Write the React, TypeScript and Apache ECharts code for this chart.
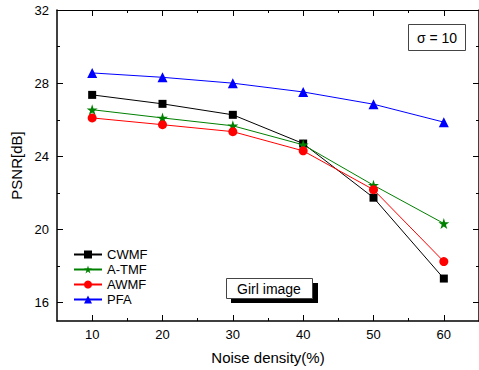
import React, { useEffect, useRef } from "react";
import * as echarts from "echarts";

const noiseDensity = [10, 20, 30, 40, 50, 60];
const cwmf = [27.36, 26.87, 26.27, 24.7, 21.74, 17.32];
const atmf = [26.55, 26.1, 25.67, 24.63, 22.42, 20.33];
const awmf = [26.1, 25.73, 25.35, 24.3, 22.18, 18.25];
const pfa = [28.56, 28.32, 28.0, 27.52, 26.85, 25.87];
const xMajor = [10, 20, 30, 40, 50, 60];
const xMinor = [15, 25, 35, 45, 55];
const yMajor = [16, 20, 24, 28, 32];
const yMinor = [18, 22, 26, 30];

const FONT = "Liberation Sans, Arial, sans-serif";

export default function App() {
  const ref = useRef<HTMLDivElement>(null);
  useEffect(() => {
    if (!ref.current) return;
    const chart = echarts.init(ref.current, undefined, { renderer: "svg" });
    const lineStyle = { color: "#000", width: 1.5 };
    const hiddenLine = { show: false };
    const xBase = { type: "value", min: 5, max: 65, splitLine: { show: false }, gridIndex: 0 };
    const yBase = { type: "value", min: 15, max: 32, splitLine: { show: false }, gridIndex: 0 };
    const mk = (name: string, vals: number[], color: string, symbol: string, size: number) => ({
      name,
      type: "line",
      data: noiseDensity.map((x, i) => [x, vals[i]]),
      symbol,
      symbolSize: size,
      lineStyle: { color, width: 1 },
      itemStyle: { color },
      xAxisIndex: 0,
      yAxisIndex: 0,
    });
    chart.setOption({
      animation: false,
      textStyle: { fontFamily: FONT },
      grid: { left: 57, right: -2, top: 10, bottom: 48, containLabel: false },
      legend: {
        left: 68,
        top: 243,
        orient: "vertical",
        itemWidth: 28,
        itemHeight: 10,
        itemGap: 2,
        textStyle: { fontFamily: FONT, fontSize: 13, lineHeight: 12, color: "#000" },
        data: ["CWMF", "A-TMF", "AWMF", "PFA"],
      },
      xAxis: [
        {
          ...xBase,
          position: "bottom",
          axisLine: { show: true, lineStyle },
          axisTick: { show: true, inside: true, length: 6, customValues: xMajor, lineStyle: { color: "#000", width: 1 } },
          axisLabel: { customValues: xMajor, color: "#000", fontSize: 13, fontFamily: FONT, margin: 7 },
          name: "Noise density(%)",
          nameLocation: "middle",
          nameGap: 29,
          nameTextStyle: { color: "#000", fontSize: 15, fontFamily: FONT },
        },
        {
          ...xBase,
          position: "bottom",
          axisLine: hiddenLine,
          axisTick: { show: true, inside: true, length: 3, customValues: xMinor, lineStyle: { color: "#000", width: 1 } },
          axisLabel: { show: false },
        },
        {
          ...xBase,
          position: "top",
          axisLine: { show: true, lineStyle: { color: "#000", width: 1 } },
          axisTick: { show: true, inside: true, length: 6, customValues: xMajor, lineStyle: { color: "#000", width: 1 } },
          axisLabel: { show: false },
        },
        {
          ...xBase,
          position: "top",
          axisLine: hiddenLine,
          axisTick: { show: true, inside: true, length: 3, customValues: xMinor, lineStyle: { color: "#000", width: 1 } },
          axisLabel: { show: false },
        },
      ],
      yAxis: [
        {
          ...yBase,
          position: "left",
          axisLine: { show: true, lineStyle },
          axisTick: { show: true, inside: true, length: 6, customValues: yMajor, lineStyle: { color: "#000", width: 1 } },
          axisLabel: { customValues: yMajor, color: "#000", fontSize: 13, fontFamily: FONT, margin: 8 },
          name: "PSNR[dB]",
          nameLocation: "middle",
          nameGap: 33,
          nameTextStyle: { color: "#000", fontSize: 15, fontFamily: FONT },
        },
        {
          ...yBase,
          position: "left",
          axisLine: hiddenLine,
          axisTick: { show: true, inside: true, length: 3, customValues: yMinor, lineStyle: { color: "#000", width: 1 } },
          axisLabel: { show: false },
        },
        {
          ...yBase,
          position: "right",
          axisLine: { show: true, lineStyle },
          axisTick: { show: true, inside: true, length: 6, customValues: yMajor, lineStyle: { color: "#000", width: 1 } },
          axisLabel: { show: false },
        },
        {
          ...yBase,
          position: "right",
          axisLine: hiddenLine,
          axisTick: { show: true, inside: true, length: 3, customValues: yMinor, lineStyle: { color: "#000", width: 1 } },
          axisLabel: { show: false },
        },
      ],
      series: [
        mk("CWMF", cwmf, "#000000", "rect", 8),
        mk("A-TMF", atmf, "#008000", "path://M50,0 L61.8,35.5 L100,35.5 L69.1,57.4 L80.9,93 L50,71 L19.1,93 L30.9,57.4 L0,35.5 L38.2,35.5 Z", 11),
        mk("AWMF", awmf, "#ff0000", "circle", 9),
        mk("PFA", pfa, "#0000ff", "triangle", 10),
      ],
      graphic: [
        {
          type: "rect",
          shape: { x: 408.5, y: 24.5, width: 57, height: 26 },
          style: { fill: "#fff", stroke: "#444", lineWidth: 1 },
        },
        {
          type: "text",
          x: 437,
          y: 38,
          style: { text: "σ = 10", fontSize: 14, fontFamily: FONT, fill: "#000", align: "center", verticalAlign: "middle" },
        },
        {
          type: "rect",
          shape: { x: 231, y: 283, width: 87, height: 20 },
          style: { fill: "#000" },
        },
        {
          type: "rect",
          shape: { x: 226.5, y: 278.5, width: 86, height: 20 },
          style: { fill: "#fff", stroke: "#444", lineWidth: 1 },
        },
        {
          type: "text",
          x: 269,
          y: 288.5,
          style: { text: "Girl image", fontSize: 14, fontFamily: FONT, fill: "#000", align: "center", verticalAlign: "middle" },
        },
      ],
    });
    return () => chart.dispose();
  }, []);
  return (
    <div
      ref={ref}
      style={{ position: "fixed", left: 0, top: 0, width: 479, height: 370, background: "#fff" }}
    />
  );
}
